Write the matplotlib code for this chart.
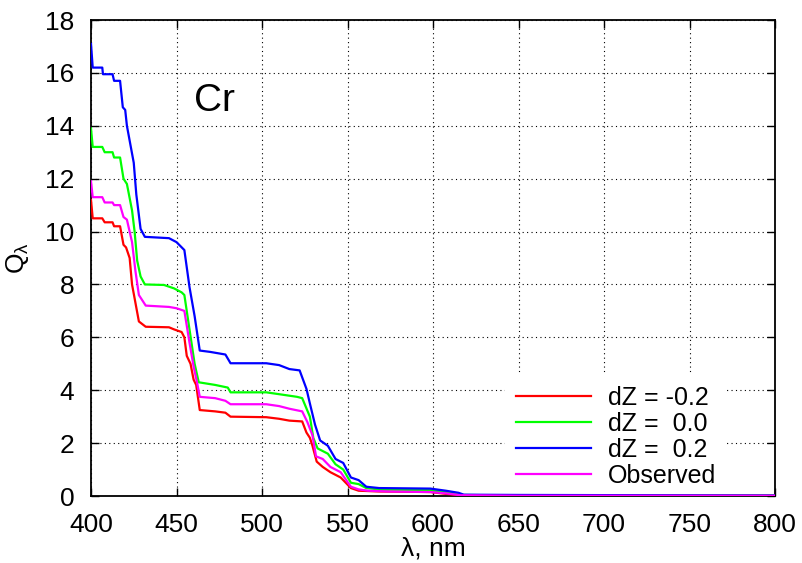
import matplotlib
matplotlib.use("Agg")
import matplotlib.pyplot as plt

plt.rcParams['font.family'] = ['Liberation Sans', 'DejaVu Sans']
plt.rcParams['mathtext.fontset'] = 'custom'
plt.rcParams['mathtext.rm'] = 'Liberation Sans'
plt.rcParams['mathtext.it'] = 'Liberation Sans'

# Data (wavelength nm, Q)
x_blue = [400, 401, 406.6, 407, 412.6, 413.5, 417, 418.6, 420, 421, 423, 425, 426.5, 429, 431.5,
          445.6, 450, 454.6, 457.6, 460.6, 463.6, 469.6, 478.6, 481.6, 502.5, 510, 516, 522, 526,
          528, 531, 534, 538.5, 543, 547.5, 552, 556.5, 561, 568.5, 598.5, 607.5, 615, 618, 650, 800]
y_blue = [17.1, 16.2, 16.2, 15.95, 15.95, 15.7, 15.7, 14.7, 14.6, 14.0, 13.3, 12.6, 11.4, 10.1, 9.8,
          9.75, 9.6, 9.3, 7.9, 6.8, 5.5, 5.45, 5.35, 5.02, 5.02, 4.95, 4.8, 4.75, 4.05,
          3.5, 2.7, 2.1, 1.9, 1.4, 1.25, 0.7, 0.6, 0.35, 0.3, 0.28, 0.2, 0.12, 0.05, 0.04, 0.02]

x_green = [400, 401, 406.6, 408, 412.6, 413.5, 417, 419, 421, 424, 425.5, 427, 429, 431.5, 442.7,
           448.6, 453, 454.6, 457.6, 460.6, 463, 472.6, 480, 481.6, 502.5, 510, 520.5, 523.5, 528,
           530, 532.5, 538.5, 543, 547.5, 552, 556.5, 561, 568.5, 598.5, 607.5, 617, 650, 800]
y_green = [13.9, 13.2, 13.2, 13.0, 13.0, 12.8, 12.8, 12.0, 11.8, 10.8, 10.0, 8.9, 8.3, 8.0, 7.98,
           7.85, 7.7, 7.6, 6.3, 5.0, 4.3, 4.2, 4.1, 3.92, 3.92, 3.85, 3.75, 3.7, 3.0,
           2.2, 1.8, 1.6, 1.2, 1.0, 0.5, 0.45, 0.3, 0.25, 0.22, 0.15, 0.04, 0.02, 0.02]

x_obs = [400, 401, 406.6, 408, 412.6, 413.5, 417, 419, 421, 424, 426, 428, 432, 445.6,
         450, 454.6, 457.6, 460, 462, 463.6, 472.6, 478.6, 481.6, 502.5, 510, 516, 523.5, 526.5,
         529.5, 531.6, 535.5, 540, 546, 552, 556.5, 562, 574, 598.5, 607.5, 616, 650, 800]
y_obs = [11.9, 11.3, 11.3, 11.1, 11.1, 11.0, 11.0, 10.55, 10.45, 9.6, 8.5, 7.6, 7.2, 7.15,
         7.1, 7.0, 5.8, 4.9, 4.3, 3.75, 3.7, 3.6, 3.47, 3.47, 3.4, 3.3, 3.2, 2.8,
         2.3, 1.5, 1.4, 1.1, 0.9, 0.35, 0.25, 0.2, 0.17, 0.15, 0.1, 0.03, 0.01, 0.01]

x_red = [400, 401, 406.6, 408, 412.6, 413.5, 417, 419, 420.5, 422.6, 424, 426, 428, 432, 445.6,
         448.6, 453, 454.6, 456, 458.2, 460, 461.5, 463.6, 472.6, 478.6, 481.6, 502.5, 510, 516,
         523.5, 526, 528, 529.5, 532, 535.5, 540, 546, 552, 556.5, 568.5, 598.5, 607.5, 618, 650, 800]
y_red = [11.2, 10.5, 10.5, 10.35, 10.35, 10.2, 10.2, 9.5, 9.4, 9.0, 8.0, 7.3, 6.6, 6.4, 6.38,
         6.3, 6.2, 6.0, 5.3, 5.0, 4.4, 4.2, 3.25, 3.2, 3.15, 3.0, 2.98, 2.92, 2.85,
         2.82, 2.4, 2.2, 1.9, 1.3, 1.1, 0.9, 0.7, 0.3, 0.2, 0.17, 0.15, 0.08, 0.02, 0.01, 0.01]

labels = ['dZ = -0.2', 'dZ =  0.0', 'dZ =  0.2', 'Observed']
colors = ['#ff0000', '#00ff00', '#0000ff', '#ff00ff']

W, H = 802, 563
L, R, T, B = 91, 775, 20, 496
fig = plt.figure(figsize=(W/100, H/100), dpi=100)
ax = fig.add_axes([L/W, 1 - B/H, (R - L)/W, (B - T)/H])

series = [(x_red, y_red), (x_green, y_green), (x_blue, y_blue), (x_obs, y_obs)]
for (xs, ys), lab, c in zip(series, labels, colors):
    ax.plot(xs, ys, color=c, lw=1.6, label=lab, zorder=3)

ax.set_xlim(400, 800)
ax.set_ylim(0, 18)
ax.set_xticks(range(400, 801, 50))
ax.set_yticks(range(0, 19, 2))
ax.grid(True, color='black', linestyle=(0, (1, 3)), linewidth=0.8)
ax.tick_params(direction='in', top=True, right=True, labelsize=19, length=6, width=1, pad=12)
for s in ax.spines.values():
    s.set_linewidth(1.3)

ax.set_xlabel('λ, nm', fontsize=19, labelpad=0)
ax.set_ylabel(r'Q$_\lambda$', fontsize=19, labelpad=10)
ax.text(472, 14.95, 'Cr', fontsize=28, ha='center', va='center')

leg = ax.legend(loc='lower left', bbox_to_anchor=((505 - L)/(R - L), -3/(B - T)),
                fontsize=18, frameon=True, fancybox=False,
                handlelength=3.0, handletextpad=0.65, labelspacing=0.08,
                borderaxespad=0.0, borderpad=0.45)
leg.get_frame().set_edgecolor('none')
leg.get_frame().set_facecolor('white')
leg.get_frame().set_alpha(1)
leg.set_zorder(2)

fig.savefig('out.png', dpi=100)
